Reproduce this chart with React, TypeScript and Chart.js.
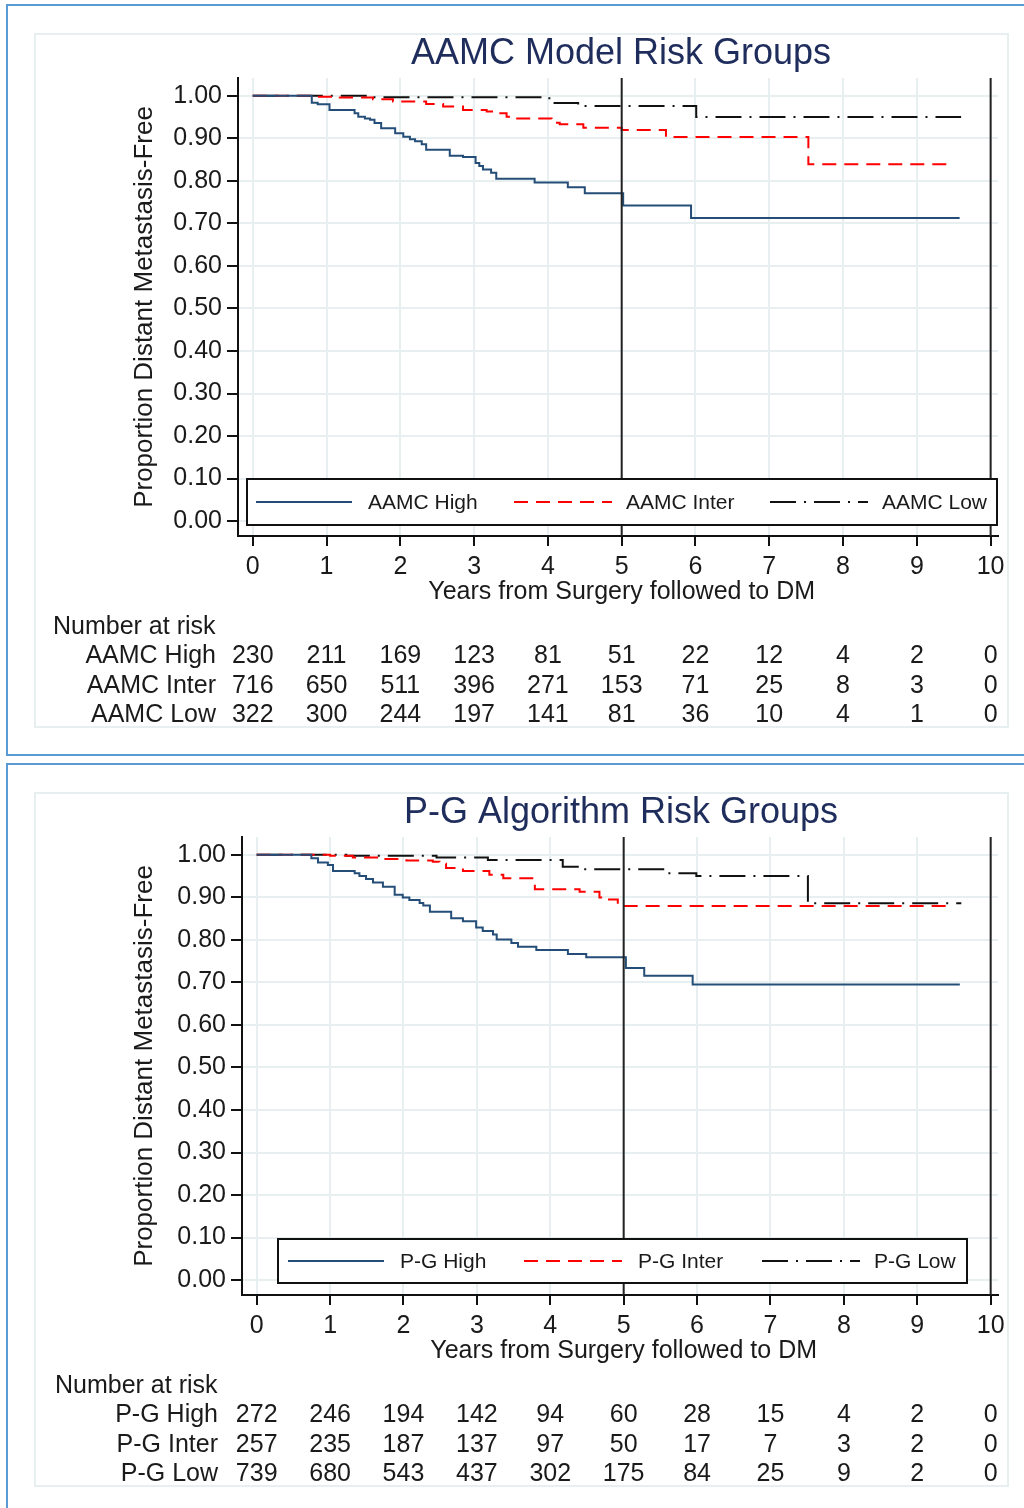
import React, { useEffect, useRef } from "react";
import { Chart, registerables } from "chart.js";

Chart.register(...registerables);

// ---------- data ----------
const yearTicks = [0, 1, 2, 3, 4, 5, 6, 7, 8, 9, 10];
const propTicks = [0, 0.1, 0.2, 0.3, 0.4, 0.5, 0.6, 0.7, 0.8, 0.9, 1.0];
const refLines = [5, 10];

// Panel 1: AAMC model
const aamcHighT = [0, 0.8, 0.88, 1.04, 1.38, 1.43, 1.52, 1.59, 1.65, 1.74, 1.93, 2.04, 2.13, 2.2, 2.29, 2.35, 2.67, 2.85, 3.02, 3.07, 3.12, 3.23, 3.3, 3.82, 4.27, 4.5, 5.02, 5.94, 9.58];
const aamcHighS = [1, 0.984, 0.98, 0.967, 0.959, 0.951, 0.947, 0.944, 0.936, 0.924, 0.912, 0.904, 0.898, 0.893, 0.886, 0.873, 0.859, 0.856, 0.842, 0.835, 0.827, 0.819, 0.805, 0.796, 0.785, 0.771, 0.742, 0.713, 0.713];
const aamcInterT = [0, 0.86, 1.18, 1.63, 1.9, 2.35, 2.58, 2.85, 3.17, 3.26, 3.44, 3.53, 4.05, 4.16, 4.48, 5.0, 5.6, 7.53, 9.49];
const aamcInterS = [1, 0.998, 0.996, 0.992, 0.987, 0.981, 0.975, 0.967, 0.963, 0.959, 0.951, 0.947, 0.937, 0.933, 0.925, 0.92, 0.903, 0.839, 0.839];
const aamcLowT = [0, 1.55, 4.02, 4.41, 6.01, 9.6];
const aamcLowS = [1, 0.997, 0.983, 0.976, 0.95, 0.95];

const aamcRiskLabels = ["AAMC High", "AAMC Inter", "AAMC Low"];
const aamcHighRisk = [230, 211, 169, 123, 81, 51, 22, 12, 4, 2, 0];
const aamcInterRisk = [716, 650, 511, 396, 271, 153, 71, 25, 8, 3, 0];
const aamcLowRisk = [322, 300, 244, 197, 141, 81, 36, 10, 4, 1, 0];

// Panel 2: P-G algorithm
const pgHighT = [0, 0.745, 0.835, 0.97, 1.04, 1.335, 1.4, 1.49, 1.585, 1.72, 1.88, 1.99, 2.08, 2.22, 2.27, 2.36, 2.65, 2.81, 2.99, 3.08, 3.22, 3.27, 3.47, 3.56, 3.81, 4.24, 4.49, 5.03, 5.28, 5.94, 9.58];
const pgHighS = [1, 0.992, 0.982, 0.976, 0.962, 0.957, 0.95, 0.943, 0.935, 0.925, 0.906, 0.9, 0.894, 0.887, 0.881, 0.866, 0.851, 0.844, 0.829, 0.821, 0.813, 0.801, 0.793, 0.784, 0.776, 0.767, 0.759, 0.734, 0.716, 0.695, 0.695];
const pgInterT = [0, 1.0, 1.31, 1.72, 2.04, 2.4, 2.49, 2.58, 2.81, 3.17, 3.36, 3.79, 4.4, 4.67, 4.76, 4.92, 9.49];
const pgInterS = [1, 0.998, 0.994, 0.99, 0.987, 0.984, 0.979, 0.969, 0.962, 0.953, 0.945, 0.919, 0.913, 0.9, 0.895, 0.88, 0.88];
const pgLowT = [0, 1.22, 2.45, 3.15, 4.17, 4.42, 5.6, 5.99, 7.51, 9.6];
const pgLowS = [1, 0.998, 0.994, 0.988, 0.972, 0.966, 0.957, 0.95, 0.886, 0.886];

const pgRiskLabels = ["P-G High", "P-G Inter", "P-G Low"];
const pgHighRisk = [272, 246, 194, 142, 94, 60, 28, 15, 4, 2, 0];
const pgInterRisk = [257, 235, 187, 137, 97, 50, 17, 7, 3, 2, 0];
const pgLowRisk = [739, 680, 543, 437, 302, 175, 84, 25, 9, 2, 0];

// ---------- styles ----------
const FONT = '"Liberation Sans", Arial, Helvetica, sans-serif';
const TEXT = "#1a1a1a";
const TITLE_COLOR = "#1f2d5c";
const GRID = "#e7eff1";
const BLUE = "#244e78";
const RED = "#ff0000";
const BLACK = "#111111";
const STYLES = [
  { color: BLUE, dash: [] as number[] },
  { color: RED, dash: [14, 8] },
  { color: BLACK, dash: [26, 8, 2, 8] },
];

const X_MIN = -0.2;
const X_MAX = 10.1;
const Y_MIN = -0.035;
const Y_MAX = 1.042;

type PanelProps = {
  title: string;
  curves: { t: number[]; s: number[] }[];
  legendLabels: string[];
  riskLabels: string[];
  risk: number[][];
  height: number;
  layout: {
    plotLeft: number;
    plotRight: number;
    plotTop: number;
    plotBottom: number;
    legendBox: [number, number, number, number];
    legendLines: [number, number][];
    legendText: number[];
    legendY: number;
    riskLabelRight: number;
    riskHeaderX: number;
  };
};

function KMPanel(props: PanelProps) {
  const ref = useRef<HTMLCanvasElement | null>(null);

  useEffect(() => {
    const canvas = ref.current;
    if (!canvas) return;
    const L = props.layout;
    const width = 1024;
    const height = props.height;
    const yScaleW = 120;
    const xScaleH = 100;

    const datasets: any[] = [];
    refLines.forEach((v) => {
      datasets.push({
        data: [
          { x: v, y: Y_MIN },
          { x: v, y: Y_MAX },
        ],
        borderColor: "#222222",
        borderWidth: 2,
        pointRadius: 0,
        fill: false,
      });
    });
    props.curves.forEach((c, i) => {
      datasets.push({
        data: c.t.map((x, k) => ({ x, y: c.s[k] })),
        borderColor: STYLES[i].color,
        borderDash: STYLES[i].dash,
        borderWidth: 2,
        pointRadius: 0,
        stepped: "before",
        fill: false,
        tension: 0,
      });
    });

    const decor = {
      id: "decor",
      beforeDraw(chart: any) {
        const ctx = chart.ctx;
        ctx.save();
        ctx.strokeStyle = "#e8eff1";
        ctx.lineWidth = 2;
        ctx.strokeRect(35, 34, 973, 693);
        ctx.restore();
      },
      afterDatasetsDraw(chart: any) {
        const ctx = chart.ctx;
        const [x1, y1, x2, y2] = L.legendBox;
        ctx.save();
        ctx.fillStyle = "#ffffff";
        ctx.fillRect(x1, y1, x2 - x1, y2 - y1);
        ctx.strokeStyle = "#111111";
        ctx.lineWidth = 2;
        ctx.strokeRect(x1, y1, x2 - x1, y2 - y1);
        props.legendLabels.forEach((lab, i) => {
          const [a, b] = L.legendLines[i];
          ctx.beginPath();
          ctx.setLineDash(STYLES[i].dash);
          ctx.strokeStyle = STYLES[i].color;
          ctx.lineWidth = 2;
          ctx.moveTo(a, L.legendY);
          ctx.lineTo(b, L.legendY);
          ctx.stroke();
          ctx.setLineDash([]);
          ctx.fillStyle = TEXT;
          ctx.font = `21px ${FONT}`;
          ctx.textAlign = "left";
          ctx.textBaseline = "middle";
          ctx.fillText(lab, L.legendText[i], L.legendY + 1);
        });
        ctx.restore();
      },
      afterDraw(chart: any) {
        const ctx = chart.ctx;
        const xs = chart.scales.x;
        const area = chart.chartArea;
        ctx.save();
        // title
        ctx.fillStyle = TITLE_COLOR;
        ctx.font = `36px ${FONT}`;
        ctx.textAlign = "center";
        ctx.textBaseline = "middle";
        ctx.fillText(props.title, 621, 54);
        // x axis title
        ctx.fillStyle = TEXT;
        ctx.font = `25px ${FONT}`;
        ctx.fillText("Years from Surgery followed to DM", xs.getPixelForValue(5), 592);
        // y axis title
        ctx.save();
        ctx.font = `26px ${FONT}`;
        ctx.translate(145, (area.top + area.bottom) / 2);
        ctx.rotate(-Math.PI / 2);
        ctx.fillText("Proportion Distant Metastasis-Free", 0, 0);
        ctx.restore();
        // risk table
        ctx.font = `25px ${FONT}`;
        ctx.textAlign = "left";
        ctx.fillText("Number at risk", L.riskHeaderX, 627);
        const rowsY = [656, 686, 715];
        props.riskLabels.forEach((lab, r) => {
          ctx.textAlign = "right";
          ctx.fillText(lab, L.riskLabelRight, rowsY[r]);
          ctx.textAlign = "center";
          props.risk[r].forEach((n, k) => {
            ctx.fillText(String(n), xs.getPixelForValue(yearTicks[k]), rowsY[r]);
          });
        });
        ctx.restore();
      },
    };

    const chart = new Chart(canvas, {
      type: "line",
      data: { datasets },
      options: {
        animation: false,
        responsive: false,
        maintainAspectRatio: false,
        devicePixelRatio: 1,
        layout: {
          padding: {
            left: L.plotLeft - yScaleW,
            right: width - L.plotRight,
            top: L.plotTop,
            bottom: height - L.plotBottom - xScaleH,
          },
        },
        plugins: {
          legend: { display: false },
          title: { display: false },
          tooltip: { enabled: false },
        },
        scales: {
          x: {
            type: "linear",
            min: X_MIN,
            max: X_MAX,
            afterBuildTicks: (s: any) => {
              s.ticks = yearTicks.map((v) => ({ value: v }));
            },
            afterFit: (s: any) => {
              s.height = xScaleH;
            },
            grid: { color: GRID, lineWidth: 2, tickColor: "#111111", tickLength: 10, tickWidth: 2 },
            border: { color: "#111111", width: 2 },
            ticks: {
              font: { family: FONT, size: 25 },
              color: TEXT,
              padding: 6,
              maxRotation: 0,
              autoSkip: false,
              callback: (v: any) => String(v),
            },
          },
          y: {
            type: "linear",
            min: Y_MIN,
            max: Y_MAX,
            afterBuildTicks: (s: any) => {
              s.ticks = propTicks.map((v) => ({ value: v }));
            },
            afterFit: (s: any) => {
              s.width = yScaleW;
            },
            grid: { color: GRID, lineWidth: 2, tickColor: "#111111", tickLength: 11, tickWidth: 2 },
            border: { color: "#111111", width: 2 },
            ticks: {
              font: { family: FONT, size: 25 },
              color: TEXT,
              padding: 5,
              autoSkip: false,
              callback: (v: any) => Number(v).toFixed(2),
            },
          },
        },
      } as any,
      plugins: [decor],
    });
    return () => chart.destroy();
  }, []);

  return <canvas ref={ref} width={1024} height={props.height} style={{ display: "block" }} />;
}

export default function App() {
  return (
    <div
      style={{
        position: "absolute",
        left: 0,
        top: 0,
        width: 1024,
        height: 1508,
        overflow: "hidden",
        background: "#ffffff",
      }}
    >
      <div
        style={{
          position: "absolute",
          left: 6,
          top: 4,
          width: 1040,
          height: 748,
          border: "2px solid #5b9bd5",
        }}
      />
      <div
        style={{
          position: "absolute",
          left: 6,
          top: 763,
          width: 1040,
          height: 800,
          border: "2px solid #5b9bd5",
        }}
      />
      <div style={{ position: "absolute", left: 0, top: 0 }}>
        <KMPanel
          title="AAMC Model Risk Groups"
          curves={[
            { t: aamcHighT, s: aamcHighS },
            { t: aamcInterT, s: aamcInterS },
            { t: aamcLowT, s: aamcLowS },
          ]}
          legendLabels={aamcRiskLabels}
          riskLabels={aamcRiskLabels}
          risk={[aamcHighRisk, aamcInterRisk, aamcLowRisk]}
          height={758}
          layout={{
            plotLeft: 238,
            plotRight: 998,
            plotTop: 78,
            plotBottom: 536,
            legendBox: [247, 479, 997, 525],
            legendLines: [
              [256, 352],
              [514, 612],
              [770, 868],
            ],
            legendText: [368, 626, 882],
            legendY: 502,
            riskLabelRight: 216,
            riskHeaderX: 53,
          }}
        />
      </div>
      <div style={{ position: "absolute", left: 0, top: 759 }}>
        <KMPanel
          title="P-G Algorithm Risk Groups"
          curves={[
            { t: pgHighT, s: pgHighS },
            { t: pgInterT, s: pgInterS },
            { t: pgLowT, s: pgLowS },
          ]}
          legendLabels={pgRiskLabels}
          riskLabels={pgRiskLabels}
          risk={[pgHighRisk, pgInterRisk, pgLowRisk]}
          height={749}
          layout={{
            plotLeft: 242,
            plotRight: 998,
            plotTop: 78,
            plotBottom: 536,
            legendBox: [278, 480, 967, 524],
            legendLines: [
              [288, 384],
              [524, 622],
              [762, 860],
            ],
            legendText: [400, 638, 874],
            legendY: 502,
            riskLabelRight: 218,
            riskHeaderX: 55,
          }}
        />
      </div>
    </div>
  );
}
